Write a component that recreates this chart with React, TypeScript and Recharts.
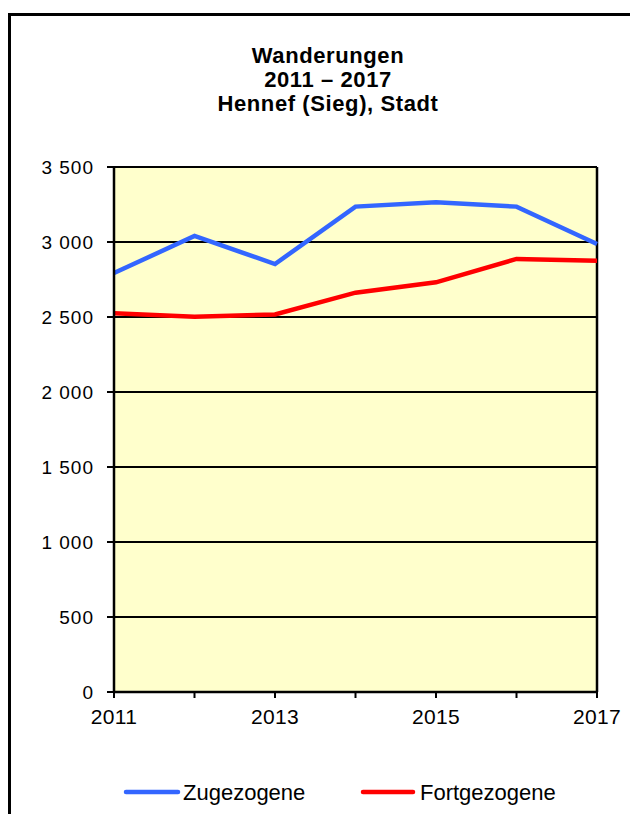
import { LineChart, Line, XAxis, YAxis, CartesianGrid, ReferenceLine } from 'recharts';

const years = [2011, 2012, 2013, 2014, 2015, 2016, 2017];
const zugezogene = [2793, 3040, 2853, 3236, 3265, 3236, 2987];
const fortgezogene = [2525, 2502, 2517, 2662, 2731, 2887, 2875];
const yTicks = [0, 500, 1000, 1500, 2000, 2500, 3000, 3500];
const xLabelYears = [2011, 2013, 2015, 2017];
const titleLines = ['Wanderungen', '2011 – 2017', 'Hennef (Sieg), Stadt'];

const FONT = '"Liberation Sans", Arial, sans-serif';
const BLUE = '#3366FF';
const RED = '#FF0000';

// Tausender mit Leerzeichen
const fmt = (v: number) => String(v).replace(/\B(?=(\d{3})+(?!\d))/g, ' ');

const data = years.map((year, i) => ({
  year,
  zu: zugezogene[i],
  fort: fortgezogene[i],
}));

export default function App() {
  return (
    <div style={{ position: 'absolute', left: 0, top: 0, width: 630, height: 814, overflow: 'hidden', background: '#fff' }}>
      {/* outer frame */}
      <div style={{ position: 'absolute', left: 8, top: 13, width: 700, height: 900, border: '3px solid #000' }} />

      <div style={{ position: 'absolute', left: 0, top: 0 }}>
        <LineChart width={630} height={814} data={data} margin={{ top: 167, right: 33, bottom: 82, left: 14 }}>
          <CartesianGrid
            horizontal
            vertical={false}
            stroke="#000"
            strokeWidth={2}
            fill="#FFFFCC"
            fillOpacity={1}
          />
          <XAxis
            dataKey="year"
            type="number"
            domain={[2011, 2017]}
            ticks={years}
            interval={0}
            height={40}
            tickSize={6}
            tickMargin={11}
            axisLine={{ stroke: '#000', strokeWidth: 2.5 }}
            tickLine={{ stroke: '#000', strokeWidth: 2 }}
            tickFormatter={(v: number) => (xLabelYears.includes(v) ? String(v) : '')}
            tick={{ fontSize: 21, fill: '#000', fontFamily: FONT, letterSpacing: 0.3 }}
          />
          <YAxis
            domain={[0, 3500]}
            ticks={yTicks}
            interval={0}
            width={100}
            tickSize={7}
            tickMargin={13}
            axisLine={{ stroke: '#000', strokeWidth: 2.5 }}
            tickLine={{ stroke: '#000', strokeWidth: 2 }}
            tickFormatter={fmt}
            tick={{ fontSize: 19, fill: '#000', fontFamily: FONT, letterSpacing: 1 }}
          />
          <ReferenceLine x={2017} stroke="#000" strokeWidth={2.5} />
          <Line
            type="linear"
            dataKey="zu"
            stroke={BLUE}
            strokeWidth={4.5}
            dot={false}
            isAnimationActive={false}
          />
          <Line
            type="linear"
            dataKey="fort"
            stroke={RED}
            strokeWidth={4.5}
            dot={false}
            isAnimationActive={false}
          />
        </LineChart>
      </div>

      {/* Titel + Legende */}
      <svg width={630} height={814} style={{ position: 'absolute', left: 0, top: 0, pointerEvents: 'none' }}>
        {titleLines.map((t, i) => (
          <text
            key={t}
            x={328}
            y={63 + i * 24}
            textAnchor="middle"
            fontFamily={FONT}
            fontWeight="bold"
            fontSize={22}
            letterSpacing={0.6}
            fill="#000"
          >
            {t}
          </text>
        ))}
        <line x1={126} y1={792} x2={178} y2={792} stroke={BLUE} strokeWidth={4.5} strokeLinecap="round" />
        <text x={183} y={800} fontFamily={FONT} fontSize={22} fill="#000">Zugezogene</text>
        <line x1={363} y1={792} x2={413} y2={792} stroke={RED} strokeWidth={4.5} strokeLinecap="round" />
        <text x={420} y={800} fontFamily={FONT} fontSize={22} fill="#000">Fortgezogene</text>
      </svg>
    </div>
  );
}
